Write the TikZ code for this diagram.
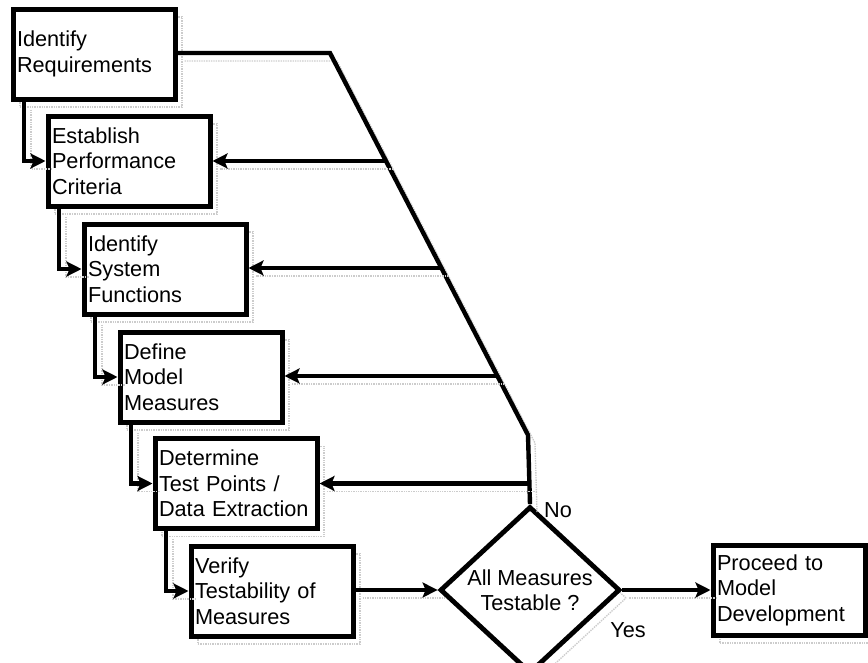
\documentclass[tikz,border=0pt]{standalone}
\usepackage{fontspec}
\setmainfont{Liberation Sans}
\usetikzlibrary{arrows.meta,shapes.geometric}

\tikzset{
  shade/.style={preaction={draw=gray!40, densely dotted, line width=1.4pt, -,
      transform canvas={shift={(7pt,-8pt)}}}},
  stepbox/.style={shade, draw, line width=5pt, fill=white, rectangle,
      minimum width=162pt, minimum height=90pt, text width=154pt,
      inner sep=4pt, align=left, font=\fontsize{21.7}{25.5}\selectfont},
  decision/.style={shade, draw, line width=4.8pt, fill=white, diamond,
      minimum width=180pt, minimum height=140pt, inner sep=0pt, align=center,
      font=\fontsize{21.7}{25.5}\selectfont},
  flow/.style={shade, line width=4.4pt, -{Stealth[length=15pt,width=15pt,inset=3pt]}},
  link/.style={shade, line width=4.4pt},
  lbl/.style={font=\fontsize{21.7}{25.5}\selectfont, inner sep=0pt},
}

\begin{document}
\begin{tikzpicture}[x=1pt,y=-1pt]
\useasboundingbox (0,0) rectangle (868,662);

% process steps, each one stepped down and to the right
\node[stepbox] (req)  at (94,54)    {Identify\\Requirements};
\node[stepbox] (perf) at (129,161)  {Establish\\Performance\\Criteria};
\node[stepbox] (func) at (165,269)  {Identify\\System\\Functions};
\node[stepbox] (meas) at (201,377)  {Define\\Model\\Measures};
\node[stepbox] (test) at (236,483.5){Determine\\Test Points /\\Data Extraction};
\node[stepbox] (ver)  at (272,591)  {Verify\\Testability of\\Measures};

% decision and outcome
\node[decision] (dec) at (530,590) {All Measures\\Testable ?};
\node[stepbox, minimum width=152pt, text width=144pt] (go) at (789,590)
  {Proceed to\\Model\\Development};

% feedback spine from the decision back up the chain
\coordinate (top)  at (330,53);
\coordinate (bend) at (528,435);
\draw[link, line join=miter] (req.east |- top) -- (top) -- (bend) -- (dec.north);

% branch points on the spine
\path (top) -- (bend) coordinate[pos=0.2827] (s2)
                      coordinate[pos=0.5628] (s3)
                      coordinate[pos=0.8455] (s4);
\coordinate (s5) at (530,483.5);

\draw[flow] (s2) -- (perf.east |- s2);
\draw[flow] (s3) -- (func.east |- s3);
\draw[flow] (s4) -- (meas.east |- s4);
\draw[flow] (s5) -- (test.east |- s5);

% forward chain down the left side
\draw[flow] ([xshift=-70pt]req.south)  |- (perf.west);
\draw[flow] ([xshift=-70pt]perf.south) |- (func.west);
\draw[flow] ([xshift=-70pt]func.south) |- (meas.west);
\draw[flow] ([xshift=-70pt]meas.south) |- (test.west);
\draw[flow] ([xshift=-70pt]test.south) |- (ver.west);

\draw[flow] (ver.east |- dec.west) -- (dec.west);
\draw[flow] (dec.east) -- (go.west);

% branch labels
\node[lbl] (no)  at (558,510) {No};
\node[lbl] (yes) at (628,630) {Yes};
\end{tikzpicture}
\end{document}
